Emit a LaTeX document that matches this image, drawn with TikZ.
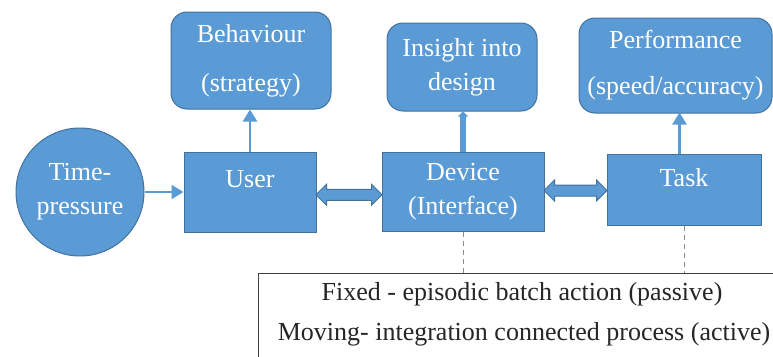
\documentclass[tikz,border=0pt]{standalone}
\usepackage{fontspec}
\setmainfont{Liberation Serif}
\newfontfamily\timesfont{Liberation Serif}
\usetikzlibrary{arrows.meta,shapes.arrows}
\definecolor{boxblue}{RGB}{91,155,213}
\definecolor{boxedge}{RGB}{65,113,156}

\begin{document}
\begin{tikzpicture}[x=1pt,y=-1pt,
    main_node/.style={rectangle,fill=boxblue,draw=boxedge,line width=1pt,text=white,align=center,inner sep=0pt,font=\timesfont\fontsize{26}{34}\selectfont},
    out_node/.style={main_node,rounded corners=16pt},
    link_arrow/.style={double arrow,fill=boxblue,draw=boxedge,line width=1pt,inner xsep=0pt,inner ysep=5pt,double arrow head extend=5pt}]

    \clip (0,0) rectangle (773,356);

    \node[main_node,circle,minimum size=128pt] (time) at (80,192) {Time-\\pressure};
    \node[main_node,minimum width=132pt,minimum height=80pt] (user) at (250,192) {User\\[-8pt]\mbox{}};
    \node[main_node,minimum width=162pt,minimum height=79pt] (device) at (463,191.5) {Device\\(Interface)};
    \node[main_node,minimum width=154pt,minimum height=71pt] (task) at (684,189.5) {Task\\[-10pt]\mbox{}};

    \node[out_node,minimum width=160pt,minimum height=97pt] (behaviour) at (251,60.5) {Behaviour\\[15pt](strategy)};
    \node[out_node,minimum width=150pt,minimum height=88pt] (insight) at (462,67) {Insight into\\design};
    \node[out_node,minimum width=193pt,minimum height=95pt] (perf) at (675.5,65.5) {Performance\\[12pt](speed/accuracy)};

    \node[draw=black!75,line width=1.2pt,fill=white,anchor=north west,minimum width=540pt,minimum height=100pt] (modes) at (258,273) {};
    \node[font=\timesfont\fontsize{26}{30}\selectfont,text=black!85] (fixed) at (522,294) {Fixed - episodic batch action (passive)};
    \node[font=\timesfont\fontsize{26}{30}\selectfont,text=black!85] (moving) at (524,334) {Moving- integration connected process (active)};

    \begin{scope}[every path/.style={draw=boxblue,line width=2.5pt,-{Triangle[width=14pt,length=12pt]}}]
    \draw (time) -- (user);
    \draw (user.north) -- (user.north |- behaviour.south);
    \draw (task.north -| perf.south) ++(4,0) -- ++(0,-41);
    \end{scope}
    \draw[draw=boxblue,line width=6pt,-{Triangle[width=10pt,length=5pt]}] (device.north) -- (device.north |- insight.south);

    \path (user.east) -- (device.west) node[link_arrow,midway,minimum height=66pt,yshift=-3pt] (ud) {};
    \path (device.east) -- (task.west) node[link_arrow,midway,minimum height=63pt] (dt) {};

    \begin{scope}[every path/.style={draw=black!45,line width=0.8pt,dash pattern=on 5pt off 4pt}]
    \draw (device.south) -- (device.south |- modes.north);
    \draw (task.south) -- (task.south |- modes.north);
    \end{scope}
\end{tikzpicture}
\end{document}
